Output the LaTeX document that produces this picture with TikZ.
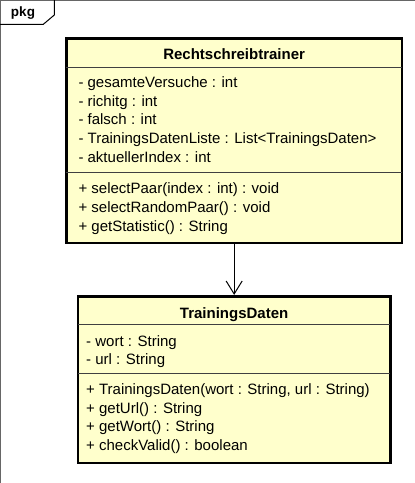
\documentclass[tikz,border=0pt]{standalone}
\usepackage{fontspec}
\setmainfont{Liberation Sans}
\usetikzlibrary{arrows.meta}
\definecolor{classfill}{HTML}{FFFFCC}

\begin{document}
\begin{tikzpicture}[x=1pt, y=-1pt, font=\fontsize{15}{18}\selectfont,
	classbox/.style={draw, line width=2.7pt, fill=classfill, inner sep=0pt},
	sepline/.style={draw=black!75, line width=1pt},
	member/.style={anchor=base west, inner sep=0pt},
	classname/.style={anchor=base, inner sep=0pt, font=\fontsize{15}{18}\selectfont\bfseries}]
		\useasboundingbox (0,0) rectangle (415,483);

		% package frame
		\draw[black!60, line width=1pt] (0.5,483) -- (0.5,0.5) -- (415,0.5);
		\draw[line width=1pt] (0,24.3) -- (43.3,24.3) -- (54.3,15) -- (54.3,0);
		\node[inner sep=0pt, font=\fontsize{13.5}{16}\selectfont\bfseries] (pkg) at (23,13) {pkg};

		% classes
		\node[classbox, minimum width=335.7pt, minimum height=204.3pt] (Trainer) at (234.15,140.85) {};
		\node[classbox, minimum width=312.3pt, minimum height=166.7pt] (Daten) at (234.15,379.65) {};

		\draw[sepline] (66.3,67.7) -- (402,67.7);
		\draw[sepline] (66.3,172.7) -- (402,172.7);
		\draw[sepline] (78,324.3) -- (390.3,324.3);
		\draw[sepline] (78,373.3) -- (390.3,373.3);

		\node[classname] (tName) at (234.15,59.3) {Rechtschreibtrainer};
		\node[member] (tA1) at (78.3,87.3) {- gesamteVersuche : int};
		\node[member] (tA2) at (78.3,106) {- richitg : int};
		\node[member] (tA3) at (78.3,124.8) {- falsch : int};
		\node[member] (tA4) at (78.3,143.5) {- TrainingsDatenListe : List<TrainingsDaten>};
		\node[member] (tA5) at (78.3,162.3) {- aktuellerIndex : int};
		\node[member] (tM1) at (78.3,193.5) {+ selectPaar(index : int) : void};
		\node[member] (tM2) at (78.3,212.3) {+ selectRandomPaar() : void};
		\node[member] (tM3) at (78.3,231) {+ getStatistic() : String};

		\node[classname] (dName) at (234.15,318.3) {TrainingsDaten};
		\node[member] (dA1) at (86,346) {- wort : String};
		\node[member] (dA2) at (86,364.5) {- url : String};
		\node[member] (dM1) at (86,394.5) {+ TrainingsDaten(wort : String, url : String)};
		\node[member] (dM2) at (86,413) {+ getUrl() : String};
		\node[member] (dM3) at (86,431.5) {+ getWort() : String};
		\node[member] (dM4) at (86,450) {+ checkValid() : boolean};

		\path (Trainer.south) edge[line width=1pt, -{Straight Barb[length=13pt, width=16pt]}] (Daten.north);
	\end{tikzpicture}
\end{document}
